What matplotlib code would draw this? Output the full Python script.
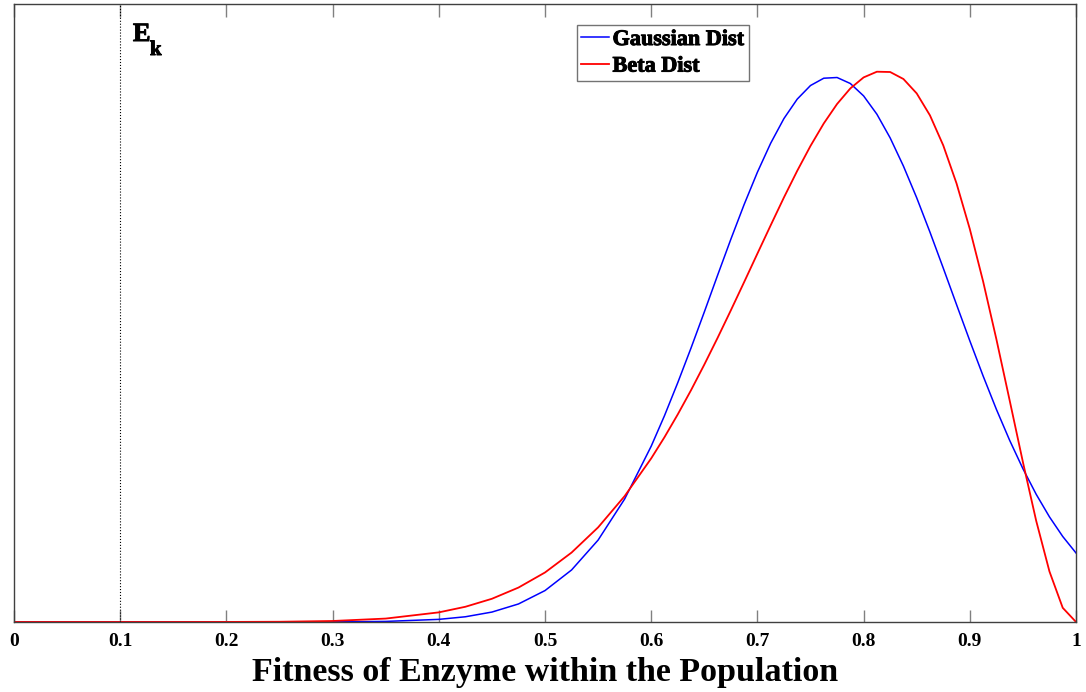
import matplotlib.pyplot as plt
import matplotlib.patheffects as pe
import numpy as np

# valores (altura das curvas em unidades arbitrarias)
fitness = [0.0, 0.05, 0.1, 0.15, 0.2, 0.25, 0.3, 0.35,
           0.4, 0.425, 0.45, 0.475, 0.5, 0.525, 0.55, 0.575,
           0.6, 0.6125, 0.625, 0.6375, 0.65, 0.6625, 0.675, 0.6875, 0.7, 0.7125,
           0.725, 0.7375, 0.75, 0.7625, 0.775, 0.7875, 0.8, 0.8125, 0.825, 0.8375,
           0.85, 0.8625, 0.875, 0.8875, 0.9, 0.9125, 0.925, 0.9375, 0.95, 0.9625,
           0.975, 0.9875, 1.0]

gauss = [0.0, 0.0, 0.0, 0.0, 0.0, 0.0001, 0.001, 0.0055,
         0.026, 0.052, 0.099, 0.180, 0.314, 0.520, 0.819, 1.230,
         1.758, 2.063, 2.393, 2.740, 3.100, 3.467, 3.828, 4.175, 4.498, 4.788,
         5.035, 5.229, 5.365, 5.438, 5.445, 5.385, 5.261, 5.078, 4.841, 4.559,
         4.242, 3.898, 3.539, 3.174, 2.812, 2.461, 2.127, 1.817, 1.533, 1.277,
         1.051, 0.855, 0.69]

beta = [0.0, 0.0, 0.0, 0.0, 0.0003, 0.0022, 0.0098, 0.034,
        0.096, 0.152, 0.232, 0.344, 0.495, 0.694, 0.946, 1.259,
        1.636, 1.848, 2.076, 2.318, 2.574, 2.841, 3.117, 3.399, 3.684, 3.967,
        4.246, 4.512, 4.761, 4.986, 5.180, 5.336, 5.446, 5.503, 5.500, 5.430,
        5.286, 5.066, 4.766, 4.386, 3.930, 3.407, 2.829, 2.217, 1.599, 1.012,
        0.505, 0.1415, 0.0]

xticks = [0, 0.1, 0.2, 0.3, 0.4, 0.5, 0.6, 0.7, 0.8, 0.9, 1]
xticklabels = ["0", "0.1", "0.2", "0.3", "0.4", "0.5", "0.6", "0.7", "0.8", "0.9", "1"]
ek = 0.1

plt.rcParams['font.family'] = ['Liberation Serif', 'DejaVu Serif']
plt.rcParams['font.weight'] = 'bold'

# contorno fino para engrossar o texto (a figura original e bem "pesada")
grosso = [pe.withStroke(linewidth=0.7, foreground='black')]

fig = plt.figure(figsize=(10.86, 6.92), dpi=100)
ax = fig.add_axes([0.0129, 0.1012, 0.9779, 0.893])

ax.plot(fitness, gauss, color=(0, 0, 1), lw=1.1, label="Gaussian Dist")
ax.plot(fitness, beta, color=(1, 0, 0), lw=1.3, label="Beta Dist")
ax.axvline(ek, color='k', ls=':', lw=0.8)

# rotulo E_k (E e k separados, como na figura)
ax.text(0.112, 5.99, "E", fontsize=19, fontweight='bold', va='top', ha='left', path_effects=grosso)
ax.text(0.128, 5.67, "k", fontsize=15, fontweight='bold', va='baseline', ha='left', path_effects=grosso)

ax.set_xlim(0, 1)
ax.set_ylim(0, 6.18)
ax.set_xticks(xticks)
ax.set_xticklabels(xticklabels, fontsize=14, fontweight='bold')
ax.set_yticks([])
ax.tick_params(axis='x', direction='in', length=9, width=1, color='#808080', top=True, pad=8)

for s in ax.spines.values():
	s.set_color('#404040')
	s.set_linewidth(1.0)

ax.set_xlabel("Fitness of Enzyme within the Population", fontsize=24.5, fontweight='bold', labelpad=5)

leg = ax.legend(loc='upper left', bbox_to_anchor=(0.5301, 0.966), fontsize=16, frameon=True,
                fancybox=False, handlelength=1.26, handletextpad=0.14, borderpad=0.2,
                labelspacing=0.27, borderaxespad=0)
leg.get_frame().set_edgecolor('#505050')
leg.get_frame().set_linewidth(1.0)
for t in leg.get_texts():
	t.set_fontweight('bold')
	t.set_path_effects(grosso)

plt.savefig("out.png", dpi=100)
plt.close()
